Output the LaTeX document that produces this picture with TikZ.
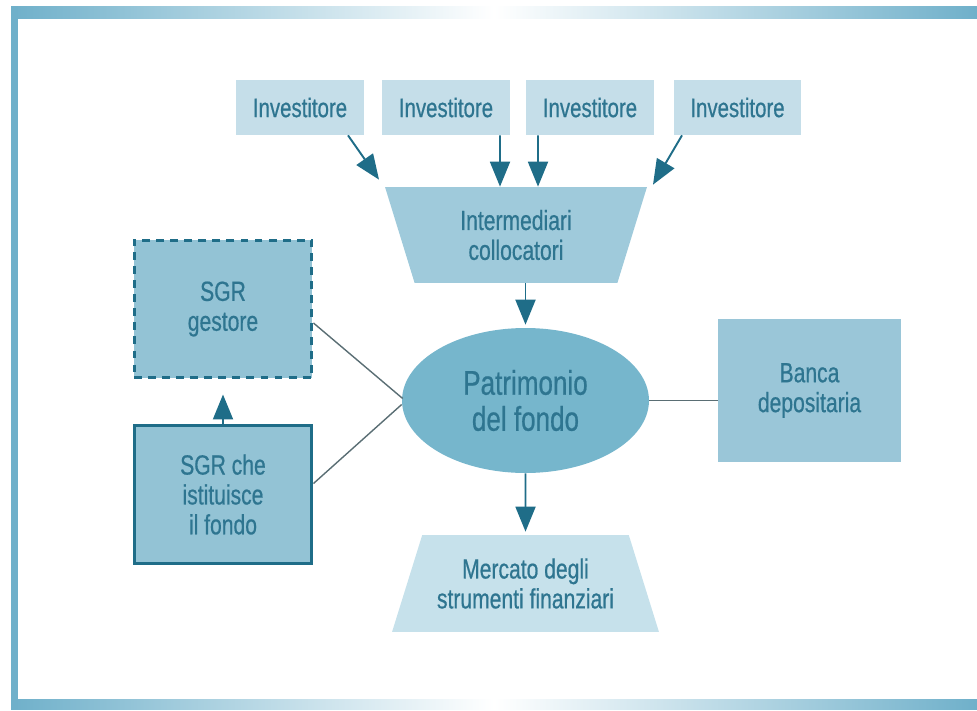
\documentclass[tikz,border=0pt]{standalone}
\usepackage{fontspec}
\setmainfont{Liberation Sans}[FakeStretch=0.76, FakeBold=0.6]
\usepackage{xcolor}
\usetikzlibrary{shapes.geometric,arrows.meta,calc}

\definecolor{tealtext}{HTML}{2E7590}
\definecolor{tealdark}{HTML}{1F6D88}
\definecolor{framblue}{HTML}{6FB0CA}
\definecolor{investfill}{HTML}{C5DEE9}
\definecolor{intermfill}{HTML}{9FCADB}
\definecolor{fondofill}{HTML}{76B6CC}
\definecolor{sgrfill}{HTML}{93C3D5}
\definecolor{bancafill}{HTML}{9AC6D8}
\definecolor{mercfill}{HTML}{C6E1EB}
\definecolor{linegray}{HTML}{5A6E74}

\tikzset{
  txt/.style={text=tealtext, align=center, inner sep=0pt, font=\fontsize{15.8}{17}\selectfont},
  investbox/.style={txt, fill=investfill, minimum width=2.56cm, minimum height=1.1cm, font=\fontsize{15.3}{17}\selectfont},
  sgrbox/.style={txt, fill=sgrfill, draw=tealdark, line width=1.7pt, minimum width=3.56cm, minimum height=2.76cm},
  flow/.style={tealdark, line width=1.1pt, -{Triangle[length=0.5cm,width=0.4cm]}},
  link/.style={linegray, line width=0.8pt}
}

\begin{document}
\begin{tikzpicture}[x=0.02cm,y=-0.02cm]
  \useasboundingbox (0,0) rectangle (977,710);
  \shade[left color=framblue, right color=framblue, middle color=white] (11,6) rectangle (977,18);
  \shade[left color=framblue, right color=framblue, middle color=white] (11,699) rectangle (977,709);
  \fill[framblue] (11,6) rectangle (18,709);

  \foreach \x [count=\j] in {300,446,590,737.5} {
    \node[investbox] (inv\j) at (\x,107.5) {Investitore};
  }

  \node[txt, trapezium, trapezium angle=59.5, trapezium stretches body, shape border rotate=180,
        fill=intermfill, minimum width=5.24cm, minimum height=1.92cm] (interm) at (516,235)
        {Intermediari\\collocatori};
  \node[txt, ellipse, fill=fondofill, minimum width=4.94cm, minimum height=2.9cm,
        font=\fontsize{19.5}{20.5}\selectfont] (fondo) at (525.5,400.5) {Patrimonio\\del fondo};
  \node[txt, trapezium, trapezium angle=59, trapezium stretches body,
        fill=mercfill, minimum width=5.34cm, minimum height=1.94cm] (mercato) at (525.5,583.5)
        {Mercato degli\\strumenti finanziari};
  \node[sgrbox, dashed, dash pattern=on 4.5pt off 3.5pt] (gestore) at (223,309) {SGR\\gestore};
  \node[sgrbox] (istit) at (223,494.5) {SGR che\\istituisce\\il fondo};
  \node[txt, fill=bancafill, minimum width=3.66cm, minimum height=2.86cm] (banca) at (809.5,390.5)
        {Banca\\depositaria};

  \draw[flow] ($(inv1.south)+(48,0)$) -- ($(interm.north)+(-137,-7)$);
  \draw[flow] ($(inv2.south)+(54,0)$) -- ($(interm.north)+(-16,0)$);
  \draw[flow] ($(inv3.south)+(-52,0)$) -- ($(interm.north)+(22,0)$);
  \draw[flow] ($(inv4.south)+(-55.5,0)$) -- ($(interm.north)+(137,-2)$);
  \draw[flow] (interm.south -| fondo.north) -- ($(fondo.north)+(0,-3)$);
  \draw[flow, shorten >=0.06cm] (fondo.south) -- (mercato.north);
  \draw[flow] (istit.north) -- ($(gestore.south)+(0,15)$);

  \draw[link] ($(gestore.east)+(0,14)$) -- ($(fondo.west)+(1,-2)$);
  \draw[link] ($(istit.east)+(0,-11)$) -- ($(fondo.west)+(0,4)$);
  \draw[link] (fondo.east) -- (fondo.east -| banca.west);
\end{tikzpicture}
\end{document}
